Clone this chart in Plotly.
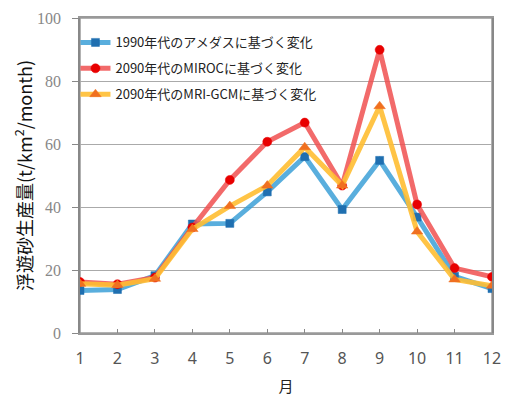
import plotly.graph_objects as go

months = [1, 2, 3, 4, 5, 6, 7, 8, 9, 10, 11, 12]
month_labels = ["1", "2", "3", "4", "5", "6", "7", "8", "9", "10", "11", "12"]
amedas_1990 = [13.5, 13.8, 18.2, 34.6, 34.8, 44.8, 56.0, 39.2, 54.8, 36.8, 18.0, 14.1]
miroc_2090 = [16.2, 15.5, 17.6, 33.5, 48.6, 60.7, 66.8, 46.8, 89.9, 40.8, 20.6, 17.8]
mri_2090 = [15.6, 15.2, 17.2, 33.0, 40.3, 46.8, 59.0, 46.8, 72.0, 32.2, 17.0, 15.0]
names = ["1990年代のアメダスに基づく変化", "2090年代のMIROCに基づく変化", "2090年代のMRI-GCMに基づく変化"]
y_ticks = [0, 20, 40, 60, 80, 100]

fig = go.Figure()
series = [
    (amedas_1990, names[0], "rgba(60,160,215,0.85)", "#1f6fb0", "square", 8),
    (miroc_2090, names[1], "rgba(240,80,80,0.85)", "#e80000", "circle", 9),
    (mri_2090, names[2], "rgba(255,190,50,0.9)", "#f07020", "triangle-up", 10),
]
for i, (vals, nm, lc, mc, sym, ms) in enumerate(series):
    fig.add_trace(go.Scatter(
        x=months, y=vals, name=nm, mode="lines+markers",
        line=dict(color=lc, width=5),
        marker=dict(symbol=sym, size=ms, color=mc, line=dict(color=mc, width=0.5)),
        legendgroup=str(i),
    ))

# plot frame outline (top and right edges)
fig.add_shape(type="rect", xref="paper", yref="paper", x0=0, x1=1, y0=0, y1=1,
              line=dict(color="#999", width=1.5), layer="below")

fig.update_layout(
    width=511, height=403,
    margin=dict(l=80, r=10, t=15, b=67),
    plot_bgcolor="white", paper_bgcolor="white",
    showlegend=True,
    legend=dict(
        x=-0.011, y=0.97, xanchor="left", yanchor="top",
        bgcolor="rgba(0,0,0,0)", tracegroupgap=6,
        font=dict(family="Noto Sans CJK JP", size=13, color="#222"),
    ),
    xaxis=dict(
        range=[1, 12], tickvals=months, ticktext=month_labels,
        showgrid=False, zeroline=False,
        showline=True, linecolor="#999", linewidth=1.5, mirror=True,
        ticks="inside", ticklen=4, tickcolor="#888",
        ticklabelstandoff=10,
        tickfont=dict(family="Noto Sans", size=16, color="#555"),
        title=dict(text="月", font=dict(family="Noto Sans CJK JP", size=15, color="#222"), standoff=14),
    ),
    yaxis=dict(
        range=[0, 100], tickvals=y_ticks,
        showgrid=True, gridcolor="#aaa", gridwidth=1.2,
        zeroline=False,
        showline=True, linecolor="#888", linewidth=1.5, mirror=True,
        ticks="outside", ticklen=6, tickcolor="#888",
        ticklabelstandoff=8,
        tickfont=dict(family="Liberation Serif", size=16, color="#888"),
        title=dict(text="浮遊砂生産量(t/km<sup>2</sup>/month)",
                   font=dict(family="Noto Sans CJK JP", size=18, color="#111"), standoff=0),
    ),
)

fig.write_html("out.html", config={"displayModeBar": False},
               post_script="document.body.style.margin='0px';")
